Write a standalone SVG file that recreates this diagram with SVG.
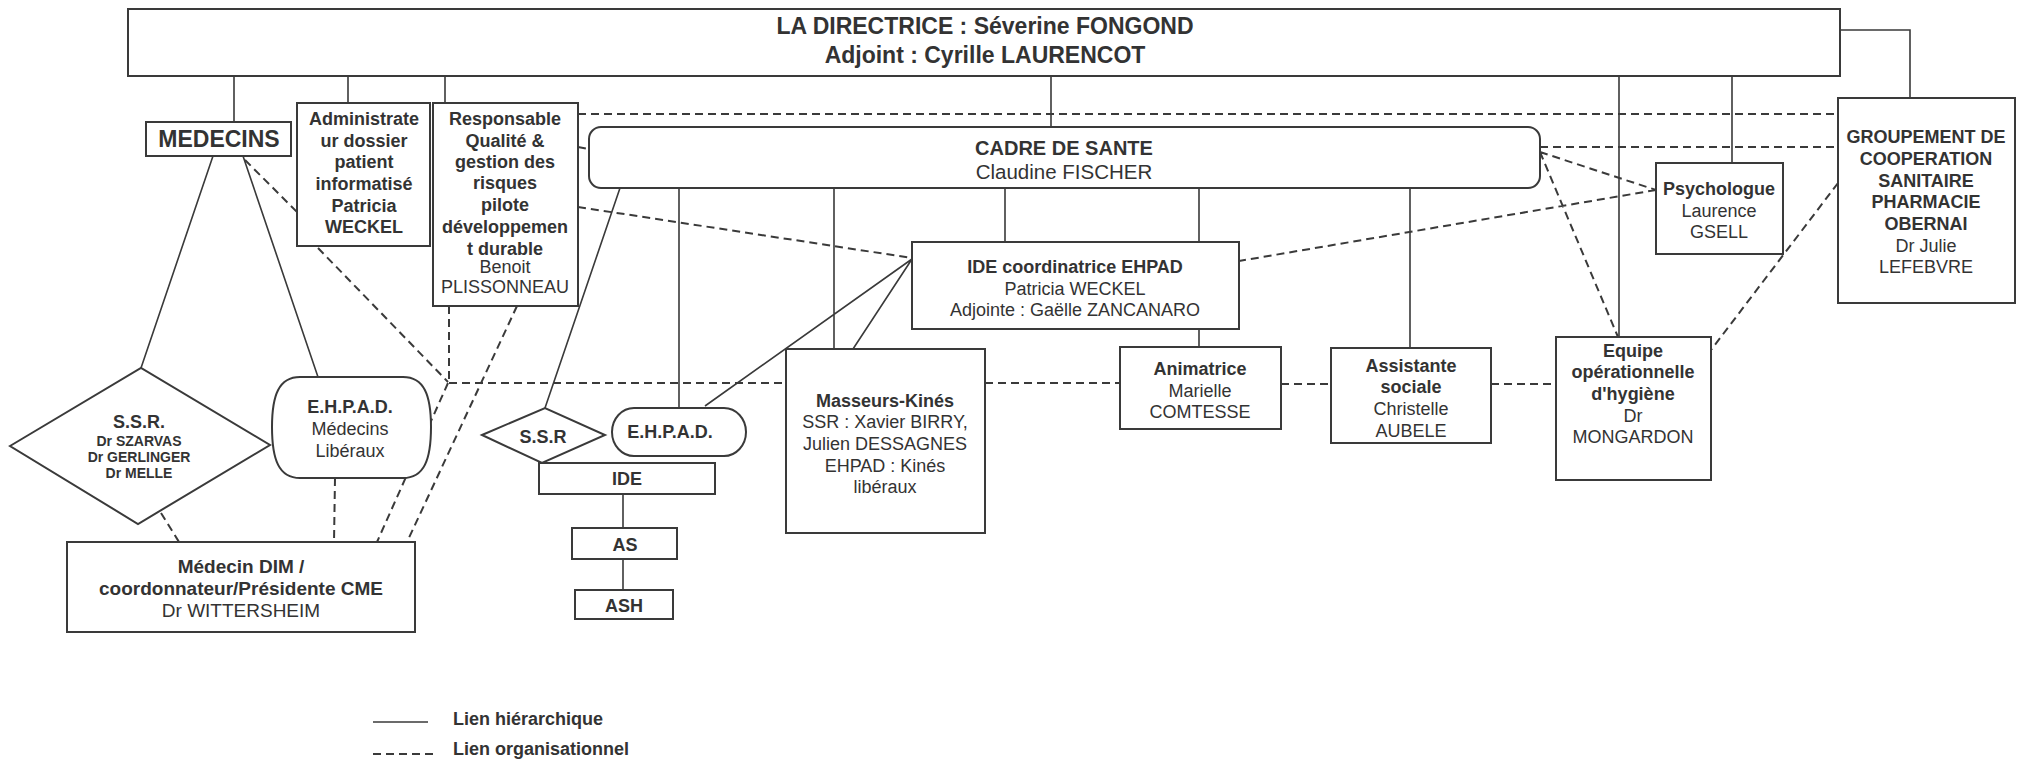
<svg xmlns="http://www.w3.org/2000/svg" width="2021" height="763" viewBox="0 0 2021 763">
<style>
text{font-family:"Liberation Sans",Arial,sans-serif;fill:#333;text-anchor:middle}
.b{font-weight:bold}
.box{fill:#fff;stroke:#3a3a3a;stroke-width:2}
.s{fill:none;stroke:#3a3a3a;stroke-width:1.6}
.d{fill:none;stroke:#3a3a3a;stroke-width:2;stroke-dasharray:8 5}
.f18{font-size:18px}
</style>
<rect width="2021" height="763" fill="#fff"/>
<g id="connectors">
<path class="s" d="M234 76V122M348 76V103M445 76V103M1051 76V127M1619 76V337M1732 76V163M1840 30H1910V98"/>
<path class="s" d="M213 156L141 368M243 156L318 377M620 188L545 408M679 188V408M834 188V349M1005 188V242M1199 188V242M1199 329V347M1410 188V348M912 259L705 406M912 259L853 349M623 494V528M623 559V590"/>
<path class="d" d="M578 114H1838M1540 147H1838M578 147L589 149M578 207L912 258M1540 152L1656 190M1656 190L1239 261M1540 152L1618 337M1838 183L1711 350"/>
<path class="d" d="M245 160L297 212M318 248L448 382M449 306V382M449 383H786M985 383H1120M1281 384H1331M1491 384H1556M448 383L377 542M517 306L407 542M335 478L334 542M161 513L179 542"/>
</g>
<g id="directrice">
<rect class="box" x="128" y="9" width="1712" height="67"/>
<text class="b" x="985" y="34" font-size="23">LA DIRECTRICE : Séverine FONGOND</text>
<text class="b" x="985" y="63" font-size="23">Adjoint : Cyrille LAURENCOT</text>
</g>
<g id="medecins">
<rect class="box" x="146" y="122" width="145" height="34"/>
<text class="b" x="219" y="147" font-size="23">MEDECINS</text>
</g>
<g id="administrateur" class="b f18">
<rect class="box" x="297" y="103" width="133" height="143"/>
<text x="364" y="125">Administrate</text>
<text x="364" y="147">ur dossier</text>
<text x="364" y="168">patient</text>
<text x="364" y="190">informatisé</text>
<text x="364" y="212">Patricia</text>
<text x="364" y="233">WECKEL</text>
</g>
<g id="responsable" class="f18">
<rect class="box" x="433" y="103" width="145" height="203"/>
<text class="b" x="505" y="125">Responsable</text>
<text class="b" x="505" y="147">Qualité &amp;</text>
<text class="b" x="505" y="168">gestion des</text>
<text class="b" x="505" y="189">risques</text>
<text class="b" x="505" y="211">pilote</text>
<text class="b" x="505" y="233">développemen</text>
<text class="b" x="505" y="255">t durable</text>
<text x="505" y="273">Benoit</text>
<text x="505" y="293">PLISSONNEAU</text>
</g>
<g id="cadre">
<rect class="box" x="589" y="127" width="951" height="61" rx="12"/>
<text class="b" x="1064" y="155" font-size="20">CADRE DE SANTE</text>
<text x="1064" y="179" font-size="20.5">Claudine FISCHER</text>
</g>
<g id="psychologue" class="f18">
<rect class="box" x="1656" y="163" width="127" height="91"/>
<text class="b" x="1719" y="195">Psychologue</text>
<text x="1719" y="217">Laurence</text>
<text x="1719" y="238">GSELL</text>
</g>
<g id="groupement" class="f18">
<rect class="box" x="1838" y="98" width="177" height="205"/>
<text class="b" x="1926" y="143">GROUPEMENT DE</text>
<text class="b" x="1926" y="165">COOPERATION</text>
<text class="b" x="1926" y="187">SANITAIRE</text>
<text class="b" x="1926" y="208">PHARMACIE</text>
<text class="b" x="1926" y="230">OBERNAI</text>
<text x="1926" y="252">Dr Julie</text>
<text x="1926" y="273">LEFEBVRE</text>
</g>
<g id="ide-coordinatrice" class="f18">
<rect class="box" x="912" y="242" width="327" height="87"/>
<text class="b" x="1075" y="273">IDE coordinatrice EHPAD</text>
<text x="1075" y="295">Patricia WECKEL</text>
<text x="1075" y="316">Adjointe : Gaëlle ZANCANARO</text>
</g>
<g id="masseurs" class="f18">
<rect class="box" x="786" y="349" width="199" height="184"/>
<text class="b" x="885" y="407">Masseurs-Kinés</text>
<text x="885" y="428">SSR : Xavier BIRRY,</text>
<text x="885" y="450">Julien DESSAGNES</text>
<text x="885" y="472">EHPAD : Kinés</text>
<text x="885" y="493">libéraux</text>
</g>
<g id="animatrice" class="f18">
<rect class="box" x="1120" y="347" width="161" height="82"/>
<text class="b" x="1200" y="375">Animatrice</text>
<text x="1200" y="397">Marielle</text>
<text x="1200" y="418">COMTESSE</text>
</g>
<g id="assistante" class="f18">
<rect class="box" x="1331" y="348" width="160" height="95"/>
<text class="b" x="1411" y="372">Assistante</text>
<text class="b" x="1411" y="393">sociale</text>
<text x="1411" y="415">Christelle</text>
<text x="1411" y="437">AUBELE</text>
</g>
<g id="equipe-hygiene" class="f18">
<rect class="box" x="1556" y="337" width="155" height="143"/>
<text class="b" x="1633" y="357">Equipe</text>
<text class="b" x="1633" y="378">opérationnelle</text>
<text class="b" x="1633" y="400">d'hygiène</text>
<text x="1633" y="422">Dr</text>
<text x="1633" y="443">MONGARDON</text>
</g>
<g id="ssr-medecins">
<polygon class="box" points="10,446 141,368 270,445 138,524"/>
<text class="b" x="139" y="428" font-size="18">S.S.R.</text>
<text class="b" x="139" y="446" font-size="14">Dr SZARVAS</text>
<text class="b" x="139" y="462" font-size="14">Dr GERLINGER</text>
<text class="b" x="139" y="478" font-size="14">Dr MELLE</text>
</g>
<g id="ehpad-medecins" class="f18">
<path class="box" d="M300 377H403C424 377 431 395 431 427C431 460 424 478 403 478H300C279 478 272 460 272 427C272 395 279 377 300 377Z"/>
<text class="b" x="350" y="413">E.H.P.A.D.</text>
<text x="350" y="435">Médecins</text>
<text x="350" y="457">Libéraux</text>
</g>
<g id="dim" class="f18">
<rect class="box" x="67" y="542" width="348" height="90"/>
<text class="b" x="241" y="573" font-size="19">Médecin DIM /</text>
<text class="b" x="241" y="595" font-size="19">coordonnateur/Présidente CME</text>
<text x="241" y="617" font-size="19">Dr WITTERSHEIM</text>
</g>
<g id="ssr" class="b f18">
<polygon class="box" points="482,435 545,408 605,435 542,463"/>
<text x="543" y="443">S.S.R</text>
</g>
<g id="ehpad" class="b f18">
<rect class="box" x="612" y="408" width="134" height="48" rx="22" ry="24"/>
<text x="670" y="438">E.H.P.A.D.</text>
</g>
<g id="ide" class="b f18">
<rect class="box" x="539" y="463" width="176" height="31"/>
<text x="627" y="485">IDE</text>
</g>
<g id="as" class="b f18">
<rect class="box" x="572" y="528" width="105" height="31"/>
<text x="625" y="551">AS</text>
</g>
<g id="ash" class="b f18">
<rect class="box" x="575" y="590" width="98" height="29"/>
<text x="624" y="612">ASH</text>
</g>
<g id="legend">
<path class="s" d="M373 722H428"/>
<path class="d" d="M373 754H435" stroke-dasharray="6 5"/>
<text class="b" x="453" y="725" font-size="18" style="text-anchor:start">Lien hiérarchique</text>
<text class="b" x="453" y="755" font-size="18" style="text-anchor:start">Lien organisationnel</text>
</g>
</svg>
